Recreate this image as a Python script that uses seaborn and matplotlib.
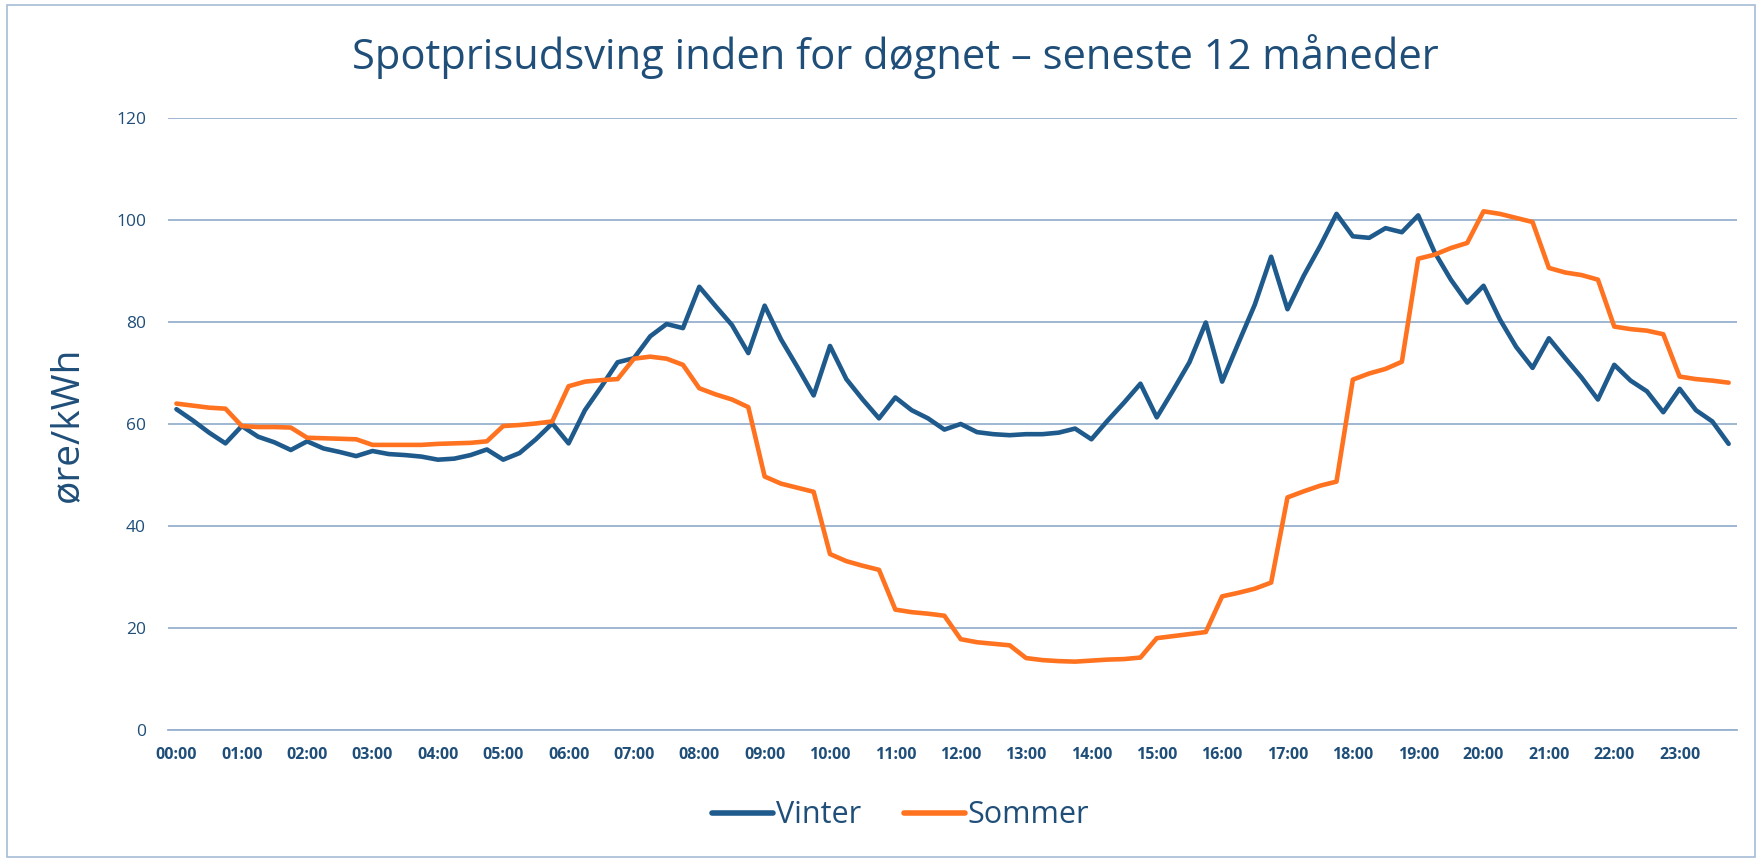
import pandas as pd
import matplotlib.pyplot as plt
import seaborn as sns
from matplotlib.patches import Rectangle

# 15-minute slots through the day
slots = [f"{h:02d}:{m:02d}" for h in range(24) for m in (0, 15, 30, 45)]
hour_labels = [f"{h:02d}:00" for h in range(24)]

vinter = [
    62.9, 60.7, 58.3, 56.2, 59.6, 57.5, 56.4, 54.9, 56.6, 55.2, 54.5, 53.7,
    54.7, 54.1, 53.9, 53.6, 53.0, 53.2, 53.9, 55.0, 53.0, 54.3, 57.0, 60.1,
    56.2, 62.7, 67.3, 72.1, 72.9, 77.2, 79.6, 78.8, 86.9, 83.1, 79.4, 73.9,
    83.2, 76.6, 71.2, 65.6, 75.3, 68.8, 64.8, 61.1, 65.2, 62.7, 61.1, 58.9,
    60.0, 58.4, 58.0, 57.8, 58.0, 58.0, 58.3, 59.1, 57.0, 60.7, 64.2, 67.9,
    61.3, 66.6, 72.1, 79.9, 68.3, 75.9, 83.4, 92.8, 82.5, 89.1, 94.9, 101.2,
    96.8, 96.5, 98.4, 97.6, 100.9, 93.7, 88.3, 83.8, 87.1, 80.5, 75.1, 71.0,
    76.8, 72.9, 69.1, 64.8, 71.6, 68.5, 66.4, 62.3, 66.9, 62.7, 60.5, 56.1,
]
sommer = [
    64.0, 63.6, 63.2, 63.0, 59.6, 59.4, 59.4, 59.3, 57.3, 57.2, 57.1, 57.0,
    55.9, 55.9, 55.9, 55.9, 56.1, 56.2, 56.3, 56.6, 59.6, 59.8, 60.1, 60.5,
    67.4, 68.3, 68.6, 68.8, 72.8, 73.2, 72.8, 71.6, 67.0, 65.8, 64.8, 63.3,
    49.7, 48.3, 47.5, 46.7, 34.5, 33.1, 32.2, 31.4, 23.6, 23.1, 22.8, 22.4,
    17.8, 17.2, 16.9, 16.6, 14.1, 13.7, 13.5, 13.4, 13.6, 13.8, 13.9, 14.2,
    18.0, 18.4, 18.8, 19.2, 26.2, 26.9, 27.7, 28.9, 45.6, 46.8, 47.9, 48.7,
    68.7, 69.9, 70.8, 72.2, 92.4, 93.2, 94.5, 95.5, 101.7, 101.2, 100.4, 99.6,
    90.6, 89.7, 89.2, 88.3, 79.1, 78.6, 78.3, 77.6, 69.3, 68.8, 68.5, 68.1,
]

df = pd.DataFrame({
    "pos": list(range(len(slots))) * 2,
    "tid": slots * 2,
    "pris": vinter + sommer,
    "serie": ["Vinter"] * len(slots) + ["Sommer"] * len(slots),
})

dark_blue = "#1F5A8C"
orange = "#FF7220"
grid_col = "#97B1CF"
text_col = "#1F4E79"

sns.set_style("white")
plt.rcParams["font.family"] = ["Open Sans", "DejaVu Sans"]

fig = plt.figure(figsize=(17.62, 8.60), dpi=100)
ax = fig.add_axes([0.0955, 0.1512, 0.8902, 0.7116])

sns.lineplot(
    data=df, x="pos", y="pris", hue="serie",
    palette={"Vinter": dark_blue, "Sommer": orange},
    linewidth=3.3, ax=ax, legend=False,
)

ax.set_xlim(-0.5, len(slots) - 0.5)
ax.set_ylim(0, 120)
ax.set_yticks(range(0, 121, 20))
ax.yaxis.grid(True, color=grid_col, linewidth=1.3)
ax.set_axisbelow(True)

# hour labels centred on category, tick marks on boundaries
ax.set_xticks(range(0, len(slots), 4))
ax.set_xticklabels(hour_labels, fontsize=11.5, fontweight="bold", color=text_col)
ax.set_xticks([i - 0.5 for i in range(0, len(slots) + 1, 4)], minor=True)
ax.tick_params(axis="x", which="major", length=0, pad=12)
ax.tick_params(axis="x", which="minor", length=7, width=1.3, color=grid_col, direction="out")
ax.tick_params(axis="y", length=0, labelsize=12.5, labelcolor=text_col, pad=16)

for side in ["top", "right", "left"]:
    ax.spines[side].set_visible(False)
ax.spines["bottom"].set_color(grid_col)
ax.spines["bottom"].set_linewidth(1.3)

ax.set_xlabel("")
ax.set_ylabel("øre/kWh", fontsize=28, color=text_col, labelpad=22)

fig.suptitle("Spotprisudsving inden for døgnet – seneste 12 måneder",
             fontsize=30, color=text_col, x=0.508, y=0.96)

handles = [plt.Line2D([], [], color=dark_blue, linewidth=4, solid_capstyle="round"),
           plt.Line2D([], [], color=orange, linewidth=4, solid_capstyle="round")]
fig.legend(handles, ["Vinter", "Sommer"], loc="center", bbox_to_anchor=(0.511, 0.052),
           ncol=2, frameon=False, fontsize=22, labelcolor=text_col,
           handlelength=2.0, handletextpad=0.1, columnspacing=1.4)

fig.patches.append(Rectangle((0.004, 0.004), 0.992, 0.99, transform=fig.transFigure,
                             fill=False, edgecolor="#A6BCD6", linewidth=1.2))

fig.savefig("out.png", dpi=100)
